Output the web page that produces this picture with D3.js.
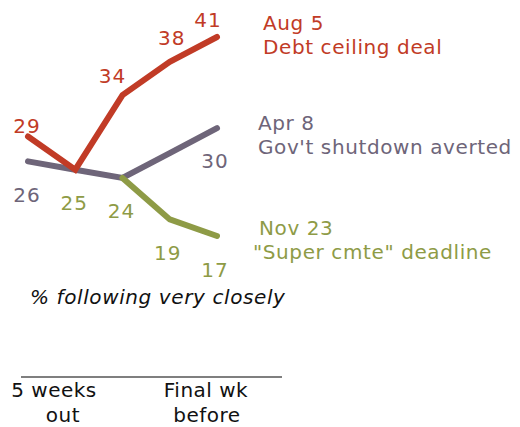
<!DOCTYPE html>
<html>
<head>
<meta charset="utf-8">
<script src="https://cdn.jsdelivr.net/npm/d3@7"></script>
<style>
  html, body { margin: 0; padding: 0; background: #fff; }
  svg { display: block; }
  text { font-family: "DejaVu Sans", Verdana, sans-serif; }
</style>
</head>
<body>
<div id="chart"></div>
<script>
// Weeks leading up to each deadline (index 0 = five weeks out, 4 = final week)
const weeks = [0, 1, 2, 3, 4];

// % following the news very closely, per episode
const debtCeiling = [29, 25, 34, 38, 41];
const shutdown    = [26, 25, 24, 27, 30];
const superCmte   = [null, null, 24, 19, 17];

const seriesNames = ["debt", "shutdown", "super"];
const seriesDates = ["Aug 5", "Apr 8", "Nov 23"];
const seriesTitles = ["Debt ceiling deal", "Gov't shutdown averted", "\"Super cmte\" deadline"];

// Which points carry a value label, and which series colour the label uses
const labelSeries = ["debt", "debt", "debt", "debt", "shutdown", "shutdown", "super", "super", "super", "super"];
const labelIndex  = [0, 2, 3, 4, 0, 4, 1, 2, 3, 4];
const labelValues = [29, 34, 38, 41, 26, 30, 25, 24, 19, 17];

const axisLabels = [["5 weeks", "out"], ["Final wk", "before"]];
const noteText = "% following very closely";

// ---- styling / layout ----
const W = 520, H = 427;
const colors = { debt: "#C13B26", shutdown: "#6E6579", super: "#8E9B46" };
// label offsets from their point [dx, dy] (baseline)
const labelOffsets = [[-1, -4], [-10, -12], [2, -17], [-9, -10], [-1, 41], [-2, 40], [-1, 40], [-1, 40], [-2, 41], [-2, 41]];

const svg = d3.select("#chart").append("svg").attr("width", W).attr("height", H);

const x = d3.scalePoint().domain(weeks).range([28, 217]);
const y = d3.scaleLinear().domain([0, 41]).range([377, 37]);

const data = { debt: debtCeiling, shutdown: shutdown, super: superCmte };

const line = d3.line()
  .defined(d => d.v != null)
  .x(d => x(d.w))
  .y(d => y(d.v));

// draw shutdown first so the debt line sits on top, then super cmte
["shutdown", "super", "debt"].forEach(key => {
  const pts = weeks.map((w, i) => ({ w, v: data[key][i] }));
  svg.append("path")
    .datum(pts)
    .attr("d", line)
    .attr("fill", "none")
    .attr("stroke", colors[key])
    .attr("stroke-width", 6)
    .attr("stroke-linejoin", "miter")
    .attr("stroke-linecap", "round");
});

// value labels
svg.append("g").selectAll("text")
  .data(labelValues.map((v, i) => ({ v, s: labelSeries[i], w: labelIndex[i], off: labelOffsets[i] })))
  .join("text")
  .attr("x", d => x(d.w) + d.off[0])
  .attr("y", d => y(d.v) + d.off[1])
  .attr("text-anchor", "middle")
  .attr("font-size", 20)
  .attr("letter-spacing", 1)
  .attr("fill", d => colors[d.s])
  .text(d => d.v);

// series annotations at the right
const annoPos = [[263, 30], [258, 130], [259, 235]];
const titleDx = [0, 0, -6];
seriesNames.forEach((key, i) => {
  const t = svg.append("text")
    .attr("x", annoPos[i][0])
    .attr("y", annoPos[i][1])
    .attr("font-size", 20)
    .attr("letter-spacing", 0.6)
    .attr("fill", colors[key]);
  t.append("tspan").text(seriesDates[i]);
  t.append("tspan")
    .attr("x", annoPos[i][0] + titleDx[i])
    .attr("dy", 24)
    .text(seriesTitles[i]);
});

// note
svg.append("text")
  .attr("x", 30)
  .attr("y", 304)
  .attr("font-size", 20)
  .attr("letter-spacing", 0.6)
  .attr("font-style", "italic")
  .attr("fill", "#111")
  .text(noteText);

// baseline
svg.append("line")
  .attr("x1", 21).attr("x2", 282)
  .attr("y1", y(0)).attr("y2", y(0))
  .attr("stroke", "#7f7f7f")
  .attr("stroke-width", 2);

// axis labels
const axisX = [[54, 63], [206, 207]];
axisLabels.forEach((lines, i) => {
  lines.forEach((s, j) => {
    svg.append("text")
      .attr("x", axisX[i][j])
      .attr("y", 397 + j * 25)
      .attr("text-anchor", "middle")
      .attr("font-size", 20)
      .attr("letter-spacing", 0.5)
      .attr("fill", "#111")
      .text(s);
  });
});
</script>
</body>
</html>
